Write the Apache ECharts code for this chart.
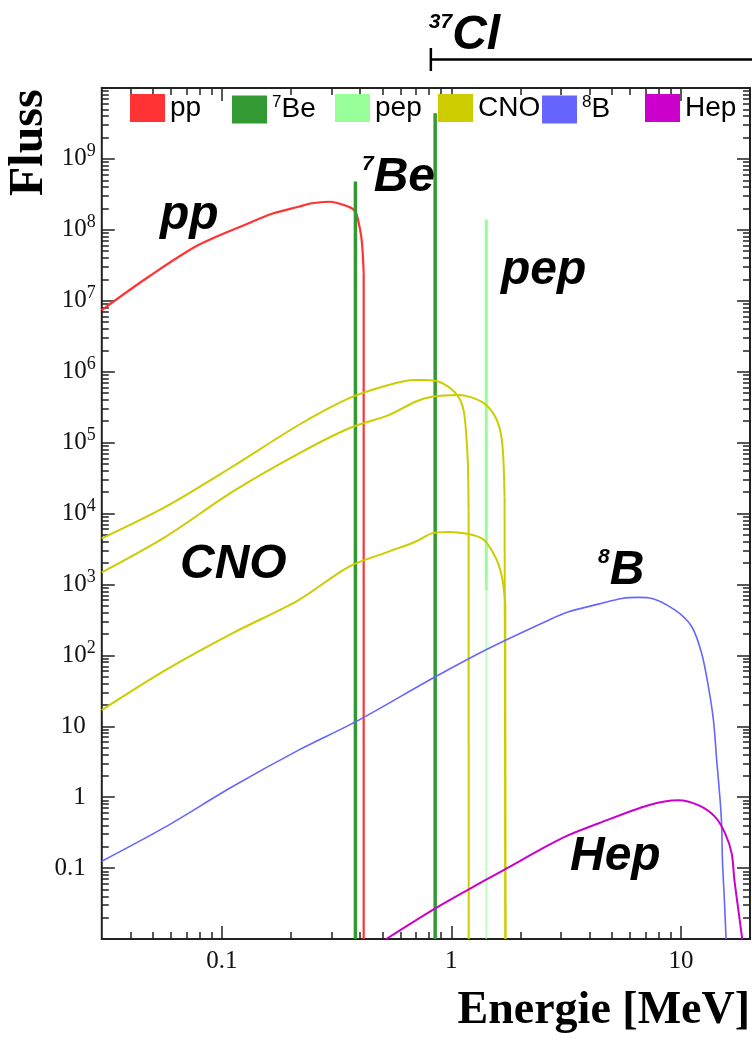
<!DOCTYPE html>
<html>
<head>
<meta charset="utf-8">
<script src="https://cdn.jsdelivr.net/npm/echarts@6/dist/echarts.min.js"></script>
<style>
  html, body { margin: 0; padding: 0; background: #ffffff; }
  #chart { width: 752px; height: 1040px; }
</style>
</head>
<body>
<div id="chart"></div>
<script>
// ---- Axis ranges ----
const energyRange = [0.03, 20];     // MeV
const fluxRange = [0.01, 1e10];

// ---- Tick labels ----
const xTickValues = [0.1, 1, 10];
const xTickLabels = ['0.1', '1', '10'];
const yTickValues = [0.1, 1, 10, 1e2, 1e3, 1e4, 1e5, 1e6, 1e7, 1e8, 1e9];
const yTickLabels = ['0.1', '1', '10', '10^2', '10^3', '10^4', '10^5', '10^6', '10^7', '10^8', '10^9'];

// ---- Spectra: [energy (MeV), flux]; the last point closes each spectrum at its endpoint ----
const ppSpectrum = [
  [0.03, 7.4e6], [0.048, 2.18e7], [0.079, 6.1e7], [0.131, 1.24e8], [0.168, 1.71e8],
  [0.216, 2.12e8], [0.247, 2.37e8], [0.292, 2.49e8], [0.357, 2.12e8], [0.382, 1.8e8],
  [0.395, 1.24e8], [0.405, 8.0e7], [0.411, 4.7e7], [0.415, 2.4e7], [0.415, 0.01]
];
// 7Be lines: [energy, peak flux]
const be7Lines = [[0.382, 4.8e8], [0.85, 4.4e9]];
// pep line: energy, top, lower end of the bright segment
const pepEnergy = 1.42;
const pepTop = 1.4e8;
const pepBrightBottom = 830;

const cnoN13 = [
  [0.03, 4.46e3], [0.0568, 1.24e4], [0.111, 4.56e4], [0.216, 1.77e5], [0.357, 4.2e5],
  [0.533, 6.5e5], [0.697, 7.6e5], [0.742, 7.6e5], [0.851, 7.45e5], [0.972, 6.1e5],
  [1.075, 4.4e5], [1.13, 2.87e5], [1.157, 1.5e5], [1.18, 5.1e4], [1.189, 1.1e4], [1.19, 0.01]
];
const cnoO15 = [
  [0.03, 1.48e3], [0.0568, 4.69e3], [0.111, 2.02e4], [0.216, 7.0e4], [0.357, 1.58e5],
  [0.533, 2.44e5], [0.697, 3.76e5], [0.823, 4.43e5], [1.075, 4.68e5], [1.358, 3.76e5],
  [1.553, 2.31e5], [1.66, 1.08e5], [1.705, 1.72e4], [1.72, 0.01]
];
const cnoF17 = [
  [0.03, 16.9], [0.0568, 61.8], [0.111, 204], [0.216, 601], [0.357, 1.77e3],
  [0.533, 2.9e3], [0.697, 4.0e3], [0.823, 5.24e3], [0.972, 5.5e3], [1.358, 4.46e3],
  [1.553, 2.45e3], [1.66, 1.28e3], [1.718, 540], [1.72, 0.01]
];
const b8Spectrum = [
  [0.03, 0.125], [0.0568, 0.381], [0.111, 1.40], [0.216, 4.6], [0.395, 12.2],
  [0.851, 49.8], [1.452, 125], [2.65, 313], [3.24, 411], [4.37, 527], [5.53, 634],
  [6.53, 656], [7.22, 650], [9.44, 434], [11.15, 253], [12.32, 106], [13.18, 36],
  [13.86, 12.2], [14.32, 3.33], [14.82, 0.91], [15.06, 0.381], [15.17, 0.129],
  [15.47, 0.035], [15.73, 0.01]
];
const hepSpectrum = [
  [0.52, 0.01], [0.848, 0.0269], [1.405, 0.0676], [1.705, 0.0955], [2.65, 0.21],
  [3.24, 0.291], [4.37, 0.426], [7.22, 0.771], [9.75, 0.908], [11.92, 0.771],
  [14.09, 0.527], [15.58, 0.308], [16.64, 0.161], [17.1, 0.068], [17.8, 0.0255], [18.5, 0.01]
];

// 37Cl detection threshold (MeV)
const cl37Threshold = 0.814;

// ---- Colours ----
const colors = {
  pp: '#ff3333', '7Be': '#339933', pep: '#99ff99',
  CNO: '#cccc00', '8B': '#6666ff', Hep: '#cc00cc'
};
const legendNames = ['pp', '7Be', 'pep', 'CNO', '8B', 'Hep'];
const legendLeft = [130, 232, 335, 438, 542, 645];

// ---- Log-axis tick helpers ----
function decades(lo, hi) {
  const out = [];
  for (let k = Math.ceil(Math.log10(lo) - 1e-9); k <= Math.floor(Math.log10(hi) + 1e-9); k++) {
    out.push(+Math.pow(10, k).toPrecision(6));
  }
  return out;
}
function subDecades(lo, hi) {
  const out = [];
  for (let k = Math.floor(Math.log10(lo)); k <= Math.ceil(Math.log10(hi)); k++) {
    for (let m = 2; m <= 9; m++) {
      const v = +(m * Math.pow(10, k)).toPrecision(6);
      if (v > lo * (1 + 1e-9) && v < hi * (1 - 1e-9)) out.push(v);
    }
  }
  return out;
}
function labelFor(values, labels, v) {
  for (let i = 0; i < values.length; i++) {
    if (Math.abs(Math.log10(v) - Math.log10(values[i])) < 1e-6) {
      const parts = labels[i].split('^');
      return parts.length > 1 ? '{b|' + parts[0] + '}{e|' + parts[1] + '}' : '{p|' + parts[0] + '}';
    }
  }
  return '';
}

const tickColor = '#222';
function tickAxis(dim, position, values, length) {
  const range = dim === 'x' ? energyRange : fluxRange;
  return {
    type: 'log', logBase: 10, position: position,
    min: range[0], max: range[1],
    axisLine: { show: false },
    splitLine: { show: false },
    axisLabel: { show: false },
    axisPointer: { show: false },
    axisTick: { show: true, inside: true, length: length, customValues: values,
                lineStyle: { color: tickColor, width: 1.5 } }
  };
}

const labelRich = {
  b: { fontFamily: 'Liberation Serif', fontSize: 25, color: '#111' },
  e: { fontFamily: 'Liberation Serif', fontSize: 18, color: '#111', padding: [0, 0, 15, 0] },
  p: { fontFamily: 'Liberation Serif', fontSize: 25, color: '#111' }
};

const xMain = tickAxis('x', 'bottom', decades(energyRange[0], energyRange[1]), 13);
xMain.axisLabel = {
  show: true, customValues: xTickValues, margin: 10,
  formatter: v => labelFor(xTickValues, xTickLabels, v),
  rich: labelRich
};
const yMain = tickAxis('y', 'left', decades(fluxRange[0], fluxRange[1]), 13);
yMain.axisLabel = {
  show: true, customValues: yTickValues, margin: 6,
  formatter: v => labelFor(yTickValues, yTickLabels, v),
  rich: Object.assign({}, labelRich, {
    p: { fontFamily: 'Liberation Serif', fontSize: 25, color: '#111', padding: [0, 10, 0, 0] }
  })
};

const xAxes = [
  xMain,
  tickAxis('x', 'bottom', subDecades(energyRange[0], energyRange[1]), 7),
  tickAxis('x', 'top', decades(energyRange[0], energyRange[1]), 13),
  tickAxis('x', 'top', subDecades(energyRange[0], energyRange[1]), 7)
];
const yAxes = [
  yMain,
  tickAxis('y', 'left', subDecades(fluxRange[0], fluxRange[1]), 7),
  tickAxis('y', 'right', decades(fluxRange[0], fluxRange[1]), 13),
  tickAxis('y', 'right', subDecades(fluxRange[0], fluxRange[1]), 7)
];

function lineSeries(name, data, width, opacity, smooth) {
  return {
    type: 'line', name: name, data: data,
    xAxisIndex: 0, yAxisIndex: 0,
    showSymbol: false, symbol: 'none',
    smooth: smooth ? 0.3 : false,
    color: colors[name],
    lineStyle: { color: colors[name], width: width, opacity: opacity == null ? 1 : opacity },
    itemStyle: { color: colors[name] },
    clip: true, silent: true, z: 3
  };
}
// A continuous spectrum: smooth body, straight cut-off at its endpoint
function spectrumSeries(name, data, width) {
  return [
    lineSeries(name, data.slice(0, -1), width, 1, true),
    lineSeries(name, data.slice(-2), width, 1, false)
  ];
}

const series = [
  ...spectrumSeries('pp', ppSpectrum, 2.2),
  ...be7Lines.map(([e, top]) => lineSeries('7Be', [[e, fluxRange[0]], [e, top]], 3.5)),
  lineSeries('pep', [[pepEnergy, pepBrightBottom], [pepEnergy, pepTop]], 3),
  lineSeries('pep', [[pepEnergy, fluxRange[0]], [pepEnergy, pepBrightBottom]], 1.5, 0.7),
  ...spectrumSeries('CNO', cnoN13, 2),
  ...spectrumSeries('CNO', cnoO15, 2),
  ...spectrumSeries('CNO', cnoF17, 2),
  lineSeries('8B', b8Spectrum, 1.6, 1, true),
  lineSeries('Hep', hepSpectrum, 2, 1, true)
];

const legends = legendNames.map((name, i) => ({
  data: [name],
  left: legendLeft[i], top: 94,
  padding: 0,
  icon: 'rect', itemWidth: 35, itemHeight: 28,
  selectedMode: false,
  formatter: n => (n === '7Be' ? '{s|7}{n|Be}' : n === '8B' ? '{s|8}{n|B}' : '{n|' + n + '}'),
  textStyle: {
    color: '#000', fontFamily: 'Liberation Sans', fontSize: 28,
    rich: {
      n: { fontFamily: 'Liberation Sans', fontSize: 28, color: '#000' },
      s: { fontFamily: 'Liberation Sans', fontSize: 17, color: '#000', padding: [0, 0, 14, 0] }
    }
  }
}));

// Labels placed on the plot next to each spectrum
const annoFont = { fontFamily: 'Liberation Sans', fontWeight: 'bold', fontStyle: 'italic', fill: '#000' };
const annoRich = {
  t: { fontFamily: 'Liberation Sans', fontWeight: 'bold', fontStyle: 'italic', fontSize: 48, fill: '#000' },
  s: { fontFamily: 'Liberation Sans', fontWeight: 'bold', fontStyle: 'italic', fontSize: 21, fill: '#000', padding: [0, 0, 27, 0] }
};
function anno(text, x, y) {
  return {
    type: 'text', x: x, y: y, z: 20,
    style: Object.assign({}, annoFont, { text: text, fontSize: 48, rich: annoRich,
      align: 'left', verticalAlign: 'middle' })
  };
}

const chart = echarts.init(document.getElementById('chart'));
chart.setOption({
  animation: false,
  backgroundColor: '#ffffff',
  grid: { left: 101.8, top: 88, right: 2, bottom: 101, show: true,
          borderColor: '#222', borderWidth: 2, backgroundColor: 'transparent' },
  xAxis: xAxes,
  yAxis: yAxes,
  legend: legends,
  series: series
});

// Threshold bar and text annotations, positioned through the axes
const clX = chart.convertToPixel({ xAxisIndex: 0 }, cl37Threshold);
chart.setOption({
  graphic: [
    anno('{t|pp}', 160, 216),
    anno('{s|7}{t|Be}', 362, 178),
    anno('{t|pep}', 501, 271),
    anno('{t|CNO}', 180, 565),
    anno('{s|8}{t|B}', 598, 571),
    anno('{t|Hep}', 570, 857),
    anno('{s|37}{t|Cl}', clX - 2, 36),
    { type: 'line', z: 20, shape: { x1: clX, y1: 59.5, x2: 752, y2: 59.5 },
      style: { stroke: '#000', lineWidth: 2.5 } },
    { type: 'line', z: 20, shape: { x1: clX, y1: 48, x2: clX, y2: 71 },
      style: { stroke: '#000', lineWidth: 2.5 } },
    { type: 'text', z: 20, x: 30, y: 196, rotation: Math.PI / 2,
      style: { text: 'Fluss', fontFamily: 'Liberation Serif', fontWeight: 'bold', fontSize: 48,
               fill: '#000', align: 'left', verticalAlign: 'middle' } },
    { type: 'text', z: 20, x: 750, y: 1011,
      style: { text: 'Energie [MeV]', fontFamily: 'Liberation Serif', fontWeight: 'bold', fontSize: 46,
               fill: '#000', align: 'right', verticalAlign: 'middle' } }
  ]
});
</script>
</body>
</html>
